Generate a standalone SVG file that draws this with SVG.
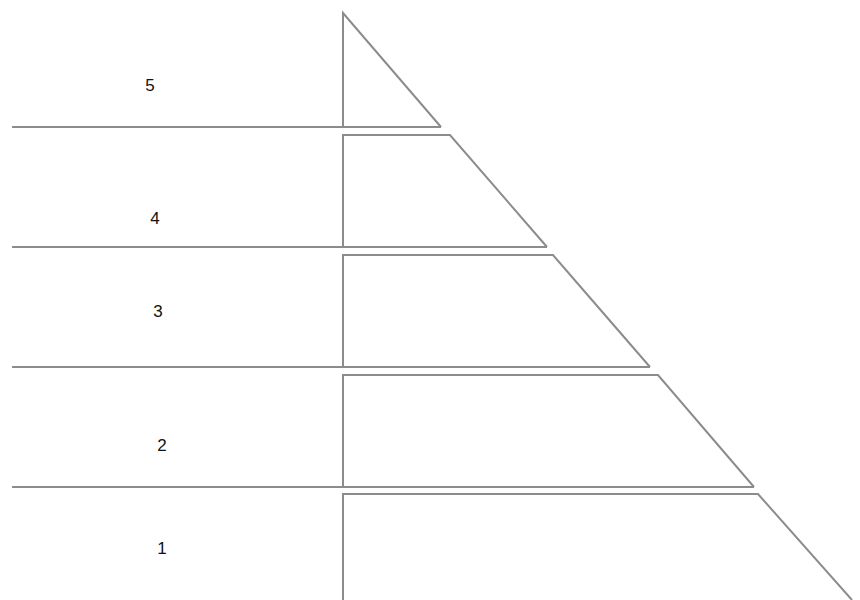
<svg xmlns="http://www.w3.org/2000/svg" width="860" height="600" viewBox="0 0 860 600">
<style>
.edge{fill:none;stroke:#8c8c8c;stroke-width:2;stroke-linejoin:miter}
.lbl{font-family:"Liberation Sans",Arial,sans-serif;font-size:17px;fill:#111;text-anchor:middle}
</style>
<rect width="860" height="600" fill="#fff"/>
<g id="layer5">
<path class="edge" d="M343,127 V13 L441,127"/>
<text class="lbl" x="150" y="91">5</text>
</g>
<g id="layer4">
<path class="edge" d="M343,247 V135 H450 L547,247"/>
<text class="lbl" x="155" y="224">4</text>
</g>
<g id="layer3">
<path class="edge" d="M343,367 V255 H553 L650,367"/>
<text class="lbl" x="158" y="317">3</text>
</g>
<g id="layer2">
<path class="edge" d="M343,487 V375 H658 L754,487"/>
<text class="lbl" x="162" y="451">2</text>
</g>
<g id="layer1">
<path class="edge" d="M343,600 V494 H758 L852,600"/>
<text class="lbl" x="162" y="554">1</text>
</g>
<g id="connectors">
<line class="edge" x1="12" y1="127" x2="441" y2="127"/>
<line class="edge" x1="12" y1="247" x2="547" y2="247"/>
<line class="edge" x1="12" y1="367" x2="650" y2="367"/>
<line class="edge" x1="12" y1="487" x2="754" y2="487"/>
</g>
</svg>
